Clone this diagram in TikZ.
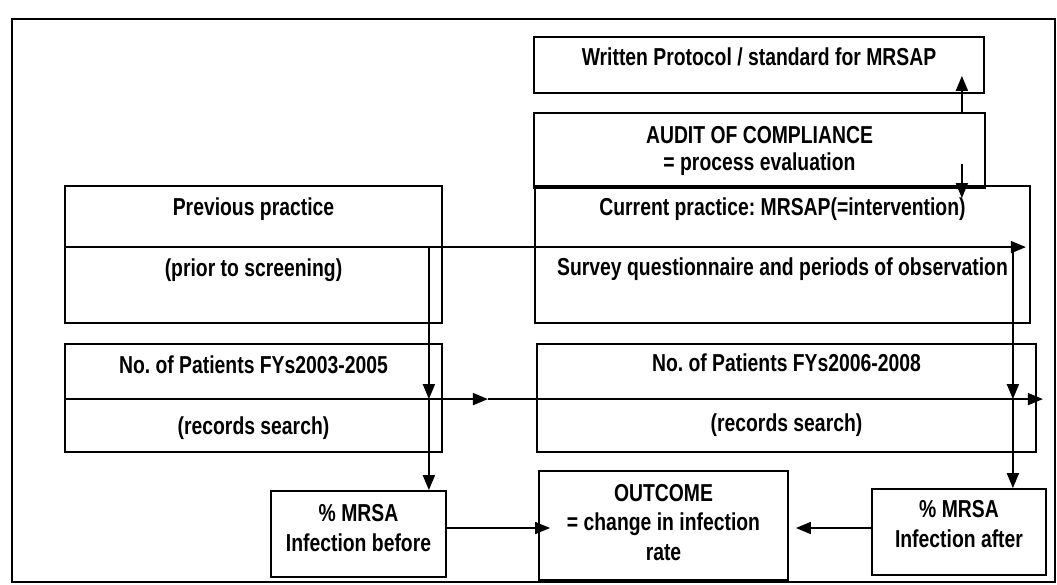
\documentclass[tikz,border=0pt]{standalone}
\usepackage{fontspec}
\setmainfont{Liberation Sans}[FakeStretch=0.79]
\usetikzlibrary{arrows.meta,positioning}
\frenchspacing

\begin{document}
\begin{tikzpicture}[x=1pt,y=-1pt,->,>={Triangle[length=15pt,width=12pt]},line width=1.8pt,
    box/.style={draw,rectangle,inner sep=0pt},
    txt/.style={font=\bfseries\fontsize{24.5}{29.5}\selectfont,align=center,inner sep=0pt}]

  \useasboundingbox (0,0) rectangle (1057,584);
  \draw[-,line width=1.8pt] (12,19) rectangle (1055,582);

  \node[box,minimum width=450,minimum height=56]  (proto)   at (759,65) {};
  \node[box,minimum width=451,minimum height=75]  (audit)   at (759.5,150.5) {};
  \node[box,minimum width=377,minimum height=137] (prev)    at (253.5,254.5) {};
  \node[box,minimum width=495,minimum height=137] (current) at (782.5,254.5) {};
  \node[box,minimum width=377,minimum height=108] (patA)    at (253.5,398) {};
  \node[box,minimum width=499,minimum height=108] (patB)    at (786.5,398) {};
  \node[box,minimum width=175,minimum height=86]  (before)  at (358.5,534) {};
  \node[box,minimum width=249,minimum height=109] (outcome) at (663.5,525.5) {};
  \node[box,minimum width=174,minimum height=86]  (after)   at (959,532) {};

  \node[txt] (protoT)   at ([yshift=-21pt]proto.north) {Written Protocol / standard for MRSAP};
  \node[txt] (auditT)   at (audit.center) {AUDIT OF COMPLIANCE\\[-2.5pt]= process evaluation};
  \node[txt] (prevT)    at ([yshift=-24pt]prev.north) {Previous practice};
  \node[txt] (prevB)    at ([yshift=-85pt]prev.north) {(prior to screening)};
  \node[txt] (currentT) at ([yshift=-24pt]current.north) {Current practice: MRSAP(=intervention)};
  \node[txt] (currentB) at ([yshift=-84pt]current.north) {Survey questionnaire and periods of observation};
  \node[txt] (patAT)    at ([yshift=-22pt]patA.north) {No. of Patients FYs2003-2005};
  \node[txt] (patAB)    at ([yshift=-85pt]patA.north) {(records search)};
  \node[txt] (patBT)    at ([yshift=-20pt]patB.north) {No. of Patients FYs2006-2008};
  \node[txt] (patBB)    at ([yshift=-82pt]patB.north) {(records search)};
  \node[txt] (beforeT)  at ([yshift=6pt]before.center) {\% MRSA\\Infection before};
  \node[txt] (outcomeT) at ([yshift=3pt]outcome.center) {OUTCOME\\= change in infection\\rate};
  \node[txt] (afterT)   at ([yshift=8pt]after.center) {\% MRSA\\Infection after};

  % crossing lines
  \coordinate (l1)  at ([yshift=-62pt]prev.north west);
  \coordinate (l2)  at ([yshift=-56pt]patA.north west);
  \coordinate (v1)  at ([xshift=-14pt]l1 -| prev.east);
  \coordinate (v2)  at ([xshift=-18pt]l1 -| current.east);
  \coordinate (vup) at ([xshift=-24pt]audit.north east);

  \draw (vup) -- ([yshift=18pt]vup |- proto.south);
  \draw ([yshift=25pt]vup |- audit.south) -- ([yshift=-13pt]vup |- current.north);
  \draw (l1) -- ([xshift=-5pt]l1 -| current.east);
  \draw (l2) -- ([xshift=45pt]l2 -| patA.east);
  \draw ([xshift=45pt]l2 -| patA.east) -- ([xshift=6pt]l2 -| patB.east);
  \draw (v1) -- (v1 |- l2);
  \draw (v1 |- l2) -- (v1 |- before.north);
  \draw (v2) -- (v2 |- l2);
  \draw (v2 |- l2) -- (v2 |- after.north);
  \draw ([yshift=6pt]before.east) -- ([xshift=12pt,yshift=6pt]before.east -| outcome.west);
  \draw ([yshift=4pt]after.west) -- ([xshift=7pt,yshift=4pt]after.west -| outcome.east);
\end{tikzpicture}
\end{document}
